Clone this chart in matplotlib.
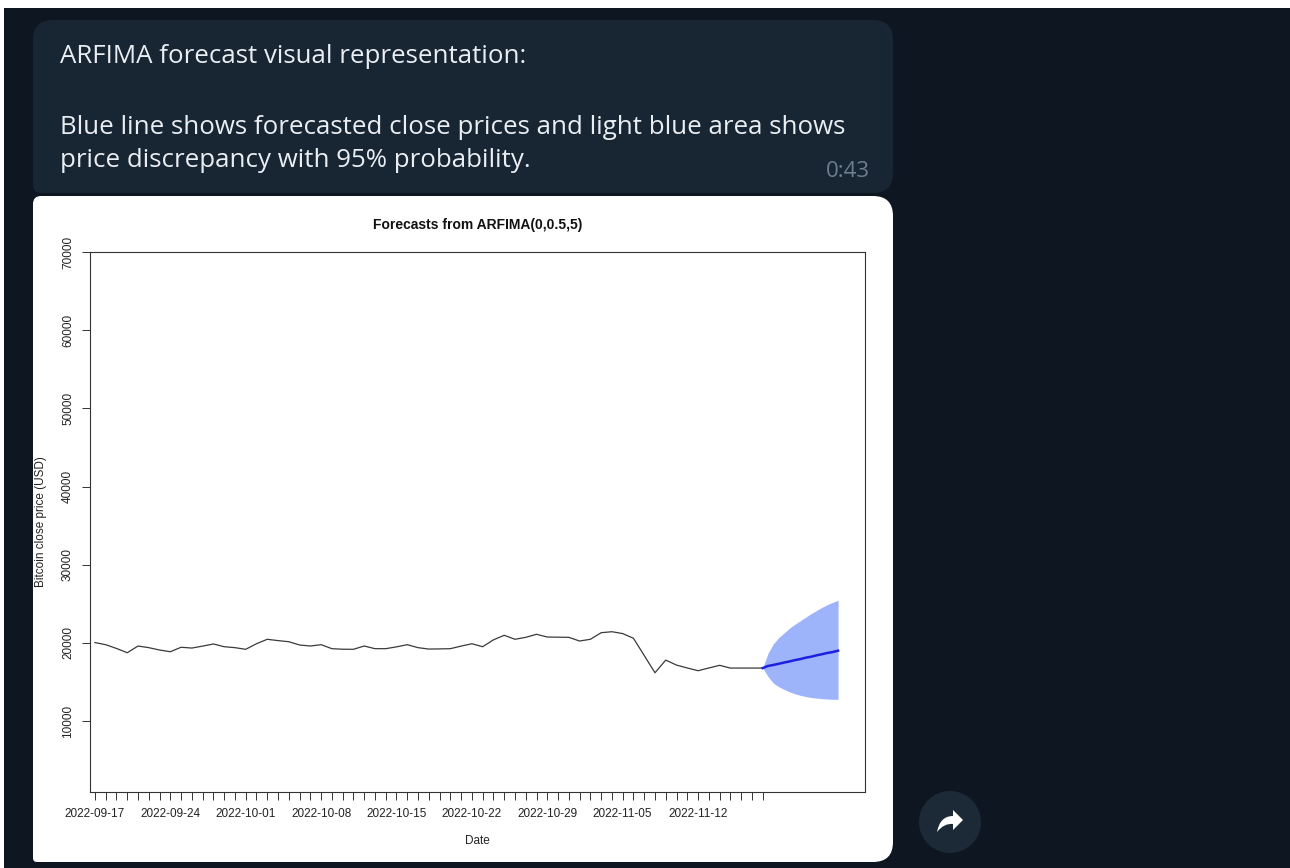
import pandas as pd
import matplotlib
matplotlib.use("Agg")
from matplotlib import pyplot as plt
from matplotlib.path import Path
from matplotlib.patches import PathPatch, Circle, Rectangle

# Daily Bitcoin close prices (USD), starting 2022-09-17
close_start = "2022-09-17"
close_prices = [20050, 19780, 19300, 18750, 19610, 19400, 19100, 18880, 19450, 19350,
                19600, 19870, 19520, 19400, 19190, 19900, 20470, 20300, 20160, 19740,
                19610, 19780, 19270, 19200, 19190, 19610, 19270, 19270, 19500, 19780,
                19400, 19220, 19240, 19270, 19600, 19900, 19520, 20400, 20980, 20470,
                20720, 21110, 20760, 20740, 20720, 20250, 20470, 21310, 21440, 21200,
                20600, 18400, 16190, 17810, 17170, 16800, 16450, 16800, 17140, 16790,
                16790, 16790, 16790]

# ARFIMA forecast in half-day steps, anchored on the last observed close
fc_mean = [16790, 17060, 17190, 17340, 17500, 17640, 17810, 17940,
           18120, 18240, 18420, 18560, 18720, 18840, 19010]
fc_lo95 = [16790, 15700, 14850, 14400, 14050, 13750, 13500, 13300,
           13150, 13030, 12950, 12880, 12830, 12800, 12790]
fc_hi95 = [16790, 18700, 19900, 20700, 21300, 21900, 22400, 22850,
           23300, 23750, 24150, 24550, 24900, 25200, 25450]

y_ticks = [10000, 20000, 30000, 40000, 50000, 60000, 70000]

msg_lines = ["ARFIMA forecast visual representation:",
             "Blue line shows forecasted close prices and light blue area shows",
             "price discrepancy with 95% probability."]
msg_time = "0:43"

BG = "#0e1621"
BUBBLE = "#182533"


def rounded_box(x0, y0, x1, y1, r_tl, r_tr, r_br, r_bl):
    # pixel coordinates, y grows downward
    verts = [(x0 + r_tl, y0), (x1 - r_tr, y0), (x1, y0), (x1, y0 + r_tr),
             (x1, y1 - r_br), (x1, y1), (x1 - r_br, y1),
             (x0 + r_bl, y1), (x0, y1), (x0, y1 - r_bl),
             (x0, y0 + r_tl), (x0, y0), (x0 + r_tl, y0), (x0 + r_tl, y0)]
    codes = [Path.MOVETO, Path.LINETO, Path.CURVE3, Path.CURVE3,
             Path.LINETO, Path.CURVE3, Path.CURVE3,
             Path.LINETO, Path.CURVE3, Path.CURVE3,
             Path.LINETO, Path.CURVE3, Path.CURVE3, Path.CLOSEPOLY]
    return Path(verts, codes)


fig = plt.figure(figsize=(12.9, 8.68), dpi=100, facecolor="white")
bg = fig.add_axes([0, 0, 1, 1])
bg.set_xlim(0, 1290)
bg.set_ylim(868, 0)
bg.axis("off")

bg.add_patch(Rectangle((4, 8), 1290, 868, color=BG, lw=0))
bg.add_patch(PathPatch(rounded_box(33, 20, 893, 193, 20, 20, 20, 8), fc=BUBBLE, lw=0))
bg.add_patch(PathPatch(rounded_box(33, 196, 893, 862, 8, 20, 20, 4), fc="white", lw=0))

# message text
for txt, base in zip(msg_lines, [63, 134, 167]):
    bg.text(60, base, txt, fontsize=18.6, family="Open Sans", color="#e9eef3",
            va="baseline", ha="left")
bg.text(870, 177, msg_time, fontsize=16, family="Open Sans", color="#6d7f8f",
        va="baseline", ha="right")

# share button
cx, cy = 950, 822
bg.add_patch(Circle((cx, cy), 31, color="#1c2a38", lw=0))
arrow = [(cx + 13, cy - 2), (cx + 3, cy - 12), (cx + 3, cy - 6), (cx - 10, cy - 6),
         (cx - 13, cy + 10), (cx - 6, cy + 1), (cx + 3, cy + 2), (cx + 3, cy + 8),
         (cx + 13, cy - 2)]
arrow_codes = [Path.MOVETO, Path.LINETO, Path.LINETO, Path.CURVE3, Path.CURVE3,
               Path.CURVE3, Path.CURVE3, Path.LINETO, Path.CLOSEPOLY]
bg.add_patch(PathPatch(Path(arrow, arrow_codes), fc="white", lw=0))

# forecast chart
dates = pd.date_range(close_start, periods=len(close_prices), freq="D")
fc_dates = pd.date_range(dates[-1], periods=len(fc_mean), freq="12h")

ax = fig.add_axes([90 / 1290, (868 - 792) / 868, 775 / 1290, 540 / 868])
ax.fill_between(fc_dates, fc_lo95, fc_hi95, color="#9db3fa", lw=0)
ax.plot(dates, close_prices, color="#3a3a3a", lw=0.9)
ax.plot(fc_dates, fc_mean, color="#1f1fe0", lw=1.8)

ax.set_xlim(dates[0] - pd.Timedelta(hours=11), dates[0] + pd.Timedelta(days=71.5))
ax.set_ylim(940, 70000)

ax.set_xticks(dates)
ax.set_xticklabels([d.strftime("%Y-%m-%d") if i % 7 == 0 else ""
                    for i, d in enumerate(dates)])
ax.set_yticks(y_ticks)
ax.set_yticklabels([str(v) for v in y_ticks], rotation=90, va="center")
ax.tick_params(direction="out", length=5.5, width=0.7, color="#333333",
               labelsize=8.5, labelcolor="#222222")
ax.tick_params(axis="x", pad=6)
ax.tick_params(axis="y", pad=6)
for lab in ax.get_xticklabels() + ax.get_yticklabels():
    lab.set_family("Liberation Sans")
for sp in ax.spines.values():
    sp.set_linewidth(0.8)
    sp.set_color("#333333")

ax.text(0.5, 1.05, "Forecasts from ARFIMA(0,0.5,5)", transform=ax.transAxes,
        ha="center", va="center", fontsize=10, fontweight="bold",
        family="Liberation Sans", color="#111111")
ax.text(0.5, -0.0907, "Date", transform=ax.transAxes, ha="center", va="center",
        fontsize=8.5, family="Liberation Sans", color="#222222")
ax.text(-0.0635, 0.5, "Bitcoin close price (USD)", transform=ax.transAxes,
        ha="center", va="center", rotation=90, fontsize=8.5,
        family="Liberation Sans", color="#222222")

fig.savefig("out.png", dpi=100, facecolor=fig.get_facecolor())
